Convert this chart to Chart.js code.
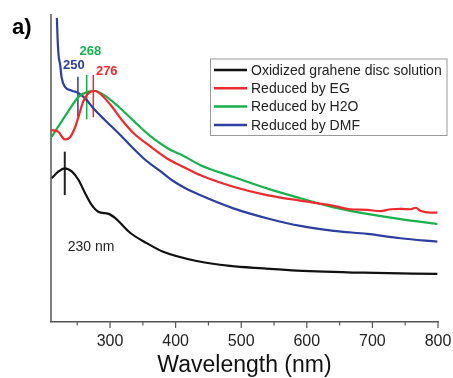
<!DOCTYPE html>
<html>
<head>
<meta charset="utf-8">
<script src="https://cdn.jsdelivr.net/npm/chart.js@4.4.1/dist/chart.umd.min.js"></script>
<style>
  html, body { margin: 0; padding: 0; background: #fff; }
  #wrap { width: 453px; height: 378px; }
</style>
</head>
<body>
<div id="wrap"><canvas id="myChart" width="453" height="378"></canvas></div>
<script>
// absorbance spectra (arbitrary units), x = wavelength in nm
const oxidizedX = [211, 221, 231, 242, 252, 262, 272, 282, 298, 308, 331, 356, 381, 432, 483, 534, 585, 686, 799];
const oxidizedY = [0.467, 0.488, 0.499, 0.488, 0.461, 0.418, 0.380, 0.358, 0.351, 0.337, 0.289, 0.256, 0.228, 0.198, 0.182, 0.174, 0.167, 0.160, 0.156];

const egX = [211, 221, 231, 239, 247, 252, 259, 267, 277, 287, 303, 318, 336, 361, 387, 415, 437, 488, 539, 590, 641, 666, 692, 712, 728, 743, 758, 766, 773, 789, 799];
const egY = [0.623, 0.618, 0.593, 0.600, 0.634, 0.667, 0.715, 0.743, 0.750, 0.737, 0.699, 0.656, 0.613, 0.571, 0.531, 0.500, 0.477, 0.439, 0.412, 0.394, 0.377, 0.366, 0.364, 0.360, 0.366, 0.367, 0.366, 0.371, 0.361, 0.355, 0.355];

const h2oX = [211, 221, 236, 252, 267, 277, 292, 313, 336, 361, 387, 415, 437, 488, 539, 590, 641, 666, 692, 743, 799];
const h2oY = [0.602, 0.634, 0.683, 0.731, 0.748, 0.750, 0.735, 0.699, 0.653, 0.604, 0.565, 0.536, 0.510, 0.471, 0.434, 0.402, 0.372, 0.361, 0.351, 0.334, 0.318];

const dmfX = [219, 220, 221.5, 224, 226, 231, 242, 252, 262, 277, 292, 313, 333, 354, 374, 394, 415, 437, 488, 539, 590, 641, 692, 743, 799];
const dmfY = [0.987, 0.922, 0.867, 0.834, 0.796, 0.764, 0.751, 0.743, 0.726, 0.688, 0.656, 0.613, 0.569, 0.526, 0.494, 0.461, 0.434, 0.412, 0.369, 0.337, 0.312, 0.296, 0.286, 0.272, 0.261];

const seriesNames = ["Oxidized grahene disc solution", "Reduced by EG", "Reduced by H2O", "Reduced by DMF"];
const seriesColors = ["#111111", "#ee2a2e", "#19b14e", "#2c3e9f"];

// peak markers: wavelength, bottom, top
const peakX = [231, 251, 264.5, 274.5];
const peakLow = [0.412, 0.667, 0.658, 0.665];
const peakHigh = [0.553, 0.796, 0.802, 0.802];
const peakColors = ["#222222", "#2c3e9f", "#19b14e", "#ee2a2e"];

// peak labels: text, x (nm), y
const labelText = ["230 nm", "250", "268", "276"];
const labelX = [271, 245, 270, 295];
const labelY = [0.244, 0.834, 0.878, 0.815];
const labelBold = [false, true, true, true];

const xTicks = [300, 400, 500, 600, 700, 800];
const xMinorTicks = [250, 350, 450, 550, 650, 750];

const FONT = "'Liberation Sans', Arial, sans-serif";

const toPts = (xs, ys) => xs.map((x, i) => ({ x: x, y: ys[i] }));

const datasets = [
  toPts(oxidizedX, oxidizedY),
  toPts(egX, egY),
  toPts(h2oX, h2oY),
  toPts(dmfX, dmfY)
].map((pts, i) => ({
  label: seriesNames[i],
  data: pts,
  borderColor: seriesColors[i],
  borderWidth: 2.2,
  pointRadius: 0,
  cubicInterpolationMode: "monotone",
  fill: false
}));

peakX.forEach((x, i) => {
  datasets.push({
    label: "peak" + i,
    data: [{ x: x, y: peakLow[i] }, { x: x, y: peakHigh[i] }],
    borderColor: peakColors[i],
    borderWidth: i === 0 ? 2 : 1.5,
    pointRadius: 0,
    fill: false
  });
});

const decorations = {
  id: "decorations",
  afterDraw(chart) {
    const ctx = chart.ctx;
    const xs = chart.scales.x;
    const ys = chart.scales.y;
    const area = chart.chartArea;
    ctx.save();

    // left axis line
    ctx.strokeStyle = "#555";
    ctx.lineWidth = 1.5;
    ctx.beginPath();
    ctx.moveTo(area.left, area.top);
    ctx.lineTo(area.left, area.bottom);
    ctx.stroke();

    // tick marks on the x axis
    ctx.lineWidth = 1.2;
    xTicks.forEach(v => {
      const px = xs.getPixelForValue(v);
      ctx.beginPath();
      ctx.moveTo(px, area.bottom);
      ctx.lineTo(px, area.bottom + 6);
      ctx.stroke();
    });
    xMinorTicks.forEach(v => {
      const px = xs.getPixelForValue(v);
      ctx.beginPath();
      ctx.moveTo(px, area.bottom);
      ctx.lineTo(px, area.bottom + 3.5);
      ctx.stroke();
    });

    // peak labels
    ctx.textAlign = "center";
    ctx.textBaseline = "middle";
    labelText.forEach((t, i) => {
      ctx.font = (labelBold[i] ? "bold 13px " : "14px ") + FONT;
      ctx.fillStyle = i === 0 ? "#222" : peakColors[i];
      ctx.fillText(t, xs.getPixelForValue(labelX[i]), ys.getPixelForValue(labelY[i]));
    });

    // legend box
    const bx = 210, by = 58.5, bw = 236.5, bh = 76.5;
    ctx.fillStyle = "#fff";
    ctx.fillRect(bx, by, bw, bh);
    ctx.strokeStyle = "#999";
    ctx.lineWidth = 1;
    ctx.strokeRect(bx + 0.5, by + 0.5, bw, bh);
    ctx.textAlign = "left";
    ctx.font = "14px " + FONT;
    seriesNames.forEach((name, i) => {
      const ry = 70 + i * 18.3;
      ctx.strokeStyle = seriesColors[i];
      ctx.lineWidth = 2.5;
      ctx.beginPath();
      ctx.moveTo(214, ry);
      ctx.lineTo(247, ry);
      ctx.stroke();
      ctx.fillStyle = "#222";
      ctx.fillText(name, 251, ry + 1);
    });

    // panel letter
    ctx.font = "bold 22px " + FONT;
    ctx.fillStyle = "#000";
    ctx.fillText("a)", 12, 28);
    ctx.restore();
  }
};

const chart = new Chart(document.getElementById("myChart").getContext("2d"), {
  type: "line",
  data: { datasets },
  options: {
    responsive: false,
    animation: false,
    layout: { padding: { left: 51, right: 15, top: 14, bottom: 1 } },
    plugins: {
      legend: { display: false },
      tooltip: { enabled: false }
    },
    scales: {
      x: {
        type: "linear",
        min: 210,
        max: 800,
        afterBuildTicks: axis => {
          axis.ticks = xTicks.map(v => ({ value: v }));
        },
        afterFit: axis => {
          axis.paddingLeft = 0;
          axis.paddingRight = 0;
          axis.height = 55;
        },
        grid: { display: false, drawTicks: false },
        border: { display: true, color: "#555", width: 1.5 },
        ticks: {
          padding: 10,
          color: "#222",
          font: { family: FONT, size: 16 },
          maxRotation: 0
        },
        title: {
          display: true,
          text: "Wavelength (nm)",
          color: "#111",
          font: { family: FONT, size: 23, lineHeight: 1 },
          padding: { top: 4, bottom: 0 }
        }
      },
      y: {
        display: false,
        min: 0,
        max: 1
      }
    }
  },
  plugins: [decorations]
});
</script>
</body>
</html>
